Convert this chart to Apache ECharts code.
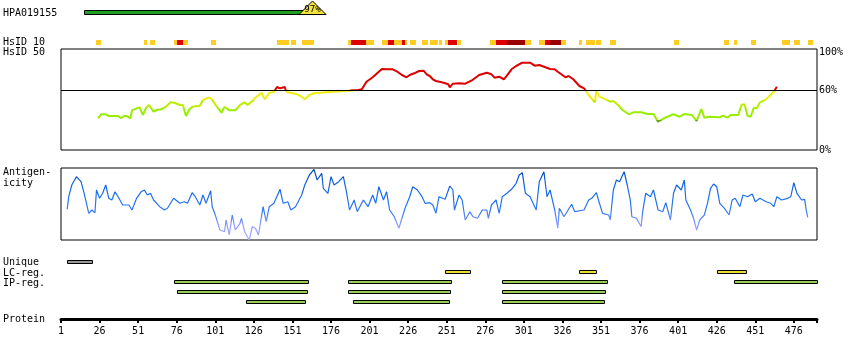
<!DOCTYPE html>
<html><head><meta charset="utf-8">
<script src="https://cdn.jsdelivr.net/npm/echarts@6/dist/echarts.min.js"></script>
<style>html,body{margin:0;padding:0;background:#fff}#c{width:850px;height:360px}</style>
</head><body><div id="c"></div>
<script>
// ---------------- data ----------------
const proteinLength = 491;
const axisTickLabels = [1, 26, 51, 76, 101, 126, 151, 176, 201, 226, 251, 276, 301, 326, 351, 376, 401, 426, 451, 476];
const antibodyName = 'HPA019155';
const hpaRange = [[16, 158]];
const hpaIdentity = [[164, 97]];
// [start, end, level] level 1 = orange, 2 = red, 3 = dark red
const hsid10 = [[24,26,1],[55,56,1],[59,61,1],[74,75,1],[76,79,2],[80,82,1],[98,100,1],[141,148,1],[150,152,1],[157,160,1],[161,164,1],
  [187,188,1],[189,198,2],[199,203,1],[209,212,1],[213,216,2],[217,221,1],[222,223,2],[224,224,1],[227,230,1],[235,238,1],[240,241,1],
  [242,244,1],[246,247,1],[250,251,1],[252,257,2],[258,259,1],[279,281,1],[282,282,1],[283,289,2],[290,301,3],[302,305,1],[311,314,1],
  [315,317,2],[318,324,3],[325,327,1],[337,338,1],[341,346,1],[348,350,1],[357,360,1],[398,400,1],[431,433,1],[437,438,1],[448,450,1],
  [468,472,1],[476,479,1],[485,487,1]];
// [residue, % identity]
const hsid50 = [[25,31.7],[27,35.7],[30,35.7],[32,34],[38,34],[40,31.7],[42,34.3],[44,33.7],[46,31.7],[47,39.7],[50,41.7],[52,42.7],[54,35],
  [56,41.7],[58,45],[59,45.7],[61,38.3],[63,40],[66,40.7],[69,43.3],[72,47.7],[75,47],[78,45],[80,45],[82,34],[84,40],[86,43.3],[91,44.3],
  [93,50],[97,52.7],[99,50],[102,43.3],[105,37.3],[107,43.3],[110,39.7],[114,39.7],[117,45],[120,47.7],[122,45],[125,49],[127,52.3],
  [131,57.3],[133,50.7],[136,57],[139,58.3],[141,63],[143,61.7],[144,60.7],[146,63],[147,58.3],[151,56.7],[154,55.7],[157,53.3],[159,50.7],
  [162,55],[165,56.7],[173,57.7],[174,59.3],[188,59.3],[190,59.8],[191,59],[193,59.7],[196,60.7],[199,68.3],[203,72.7],[209,81],[213,80.7],
  [214,79],[216,80.7],[219,78.3],[222,75],[225,72.7],[227,75],[230,76.7],[233,79],[236,79.3],[238,75.7],[240,74],[242,70.7],[244,69],
  [247,68],[249,67.3],[252,65.7],[253,62.7],[255,66.3],[259,66.7],[263,66.3],[267,69.3],[272,75],[277,77.3],[280,75.7],[282,72.3],
  [285,73.3],[288,70.7],[290,74.3],[293,80.7],[296,84],[300,87.3],[305,87.3],[308,84.3],[311,85],[315,82.7],[318,81],[321,80.7],[323,78.3],
  [328,72.7],[330,74],[333,70.7],[337,64],[340,61.7],[343,55],[347,47.7],[348,59],[350,53.3],[354,50.7],[357,48.3],[359,49],[362,45],
  [365,40],[369,35.7],[372,37.7],[377,37.7],[381,36],[385,36],[388,28.3],[391,31],[394,33.3],[398,35.7],[402,33.3],[405,36],[410,35],
  [413,29],[416,41],[418,32.3],[421,33.3],[428,32.7],[430,34.3],[433,32.3],[435,35],[440,35],[442,45],[444,45.7],[446,34.3],[448,33.3],
  [450,42.3],[452,41.7],[454,47.7],[458,50.7],[461,55],[463,58.3],[465,63.3]];
// [residue, antigenicity score]
const antigenicity = [[5,30.7],[6,43.3],[8,55],[11,63.3],[14,58.3],[16,46.7],[19,26.7],[21,30],[23,27.3],[24,50],[26,41.7],[28,46.7],[30,55],
  [32,41.7],[34,40],[36,48.3],[38,43.3],[41,35],[45,35],[47,30],[50,41.7],[53,48.3],[55,50],[57,45],[59,46.7],[61,40],[65,33.3],[68,30],
  [70,31.7],[72,36.7],[74,41.7],[78,36.7],[81,38.3],[83,36.7],[86,47.3],[88,43.3],[91,35],[93,45],[95,36.7],[98,49.3],[99,33.3],[101,25],
  [104,10],[107,8.3],[108,20],[110,5],[112,25],[114,10],[117,16.7],[118,21.7],[120,8.3],[123,0],[125,13.3],[127,11.7],[129,5],[132,33.3],
  [134,18.3],[136,33.3],[139,36.7],[143,50.7],[145,36.7],[148,38.3],[150,30],[153,33.3],[157,45],[159,55],[162,65],[165,70.7],[167,60],
  [170,66.7],[171,51.7],[174,46.7],[176,63.3],[178,55],[181,58.3],[184,63.3],[186,48.3],[188,30],[191,40],[193,28.3],[197,40],[200,33.3],
  [203,45],[205,36.7],[207,53.3],[210,40],[212,48.3],[214,30],[217,23.3],[220,11.7],[224,31.7],[227,43.3],[229,53.3],[232,50],[235,43.3],
  [237,36.7],[240,37.3],[242,35],[244,26.7],[246,43.3],[250,40.7],[253,54],[255,50],[256,30],[259,45],[261,40],[263,20],[266,28.3],
  [268,23.3],[271,21.7],[274,30],[277,30],[278,21.7],[280,35],[283,40],[285,26.7],[287,43.3],[290,46.7],[293,50.7],[296,56.7],[298,65],
  [300,67.3],[302,46.7],[305,43.3],[309,30],[311,58.3],[314,68.3],[316,43.3],[318,50],[321,30],[323,11.7],[324,31.7],[327,23.3],[329,28.3],
  [332,35.7],[334,28.3],[340,30],[343,40],[345,41.7],[348,47.3],[350,36.7],[352,26.7],[356,25],[357,20],[359,50],[361,60],[363,58.3],
  [366,68.3],[368,55],[370,40],[371,23.3],[374,21.7],[377,13.3],[378,28.3],[380,46.7],[383,43.3],[385,50],[388,30],[391,28.3],[393,37.3],
  [396,20],[398,46.7],[400,55],[403,50],[405,60],[406,40],[409,30],[411,21.7],[413,10],[415,20],[418,25],[420,36.7],[422,51.7],[424,56],
  [426,53.3],[428,36.7],[431,31.7],[434,25],[436,40],[438,41.7],[441,33.3],[443,45],[446,43.3],[449,46],[451,38.3],[454,41.7],[458,38.3],
  [461,36.7],[463,33.3],[465,43.3],[468,40],[472,41.7],[474,43.3],[476,57.3],[478,46.7],[479,45],[481,40],[483,40.7],[484,30],[485,22.7]];
const trackRows = ['Unique', 'LC-reg.', 'IP-reg. 1', 'IP-reg. 2', 'IP-reg. 3'];
const uniqueRegions = [[5, 21]];
const lcRegions = [[250, 266], [337, 348], [426, 445]];
const ipRegions1 = [[74, 161], [187, 254], [287, 355], [437, 491]];
const ipRegions2 = [[76, 160], [187, 253], [287, 354]];
const ipRegions3 = [[121, 159], [190, 252], [287, 353]];

// ---------------- chart ----------------
const FONT = '"DejaVu Sans Mono", monospace';
const L = 61, R = 33;
const trackData = [];
[[uniqueRegions, 'unique'], [lcRegions, 'lc'], [ipRegions1, 'ip'], [ipRegions2, 'ip'], [ipRegions3, 'ip']].forEach(function (pair, row) {
  pair[0].forEach(function (r) { trackData.push([r[0], row, r[1], pair[1]]); });
});
const trackFill = { unique: '#999999', lc: '#eedd33', ip: '#99cc55' };
const hsidFill = { 1: '#ffcc22', 2: '#dd0000', 3: '#990000' };

const chart = echarts.init(document.getElementById('c'), null, { renderer: 'canvas' });
const xBase = { type: 'value', min: 1, max: proteinLength, show: false };
const yBase = { type: 'value', min: 0, max: 1, show: false };

function txt(t, x, y, align) {
  return { type: 'text', x: x, y: y, silent: true,
    style: { text: t, x: 0, y: 0, fill: '#000', font: '10px ' + FONT, textAlign: align || 'left', textVerticalAlign: 'middle' } };
}

const option = {
  animation: false,
  backgroundColor: '#fff',
  grid: [
    { left: L, right: R, top: 2, height: 13 },
    { left: L, right: R, top: 40, height: 5 },
    { left: L, right: R, top: 49, height: 101, show: true, borderColor: '#000', borderWidth: 1, backgroundColor: 'transparent' },
    { left: L, right: R, top: 168, height: 72, show: true, borderColor: '#000', borderWidth: 1, backgroundColor: 'transparent' },
    { left: L, right: R, top: 257, height: 50 },
    { left: L, right: R, top: 317, height: 2 }
  ],
  xAxis: [
    Object.assign({ gridIndex: 0 }, xBase),
    Object.assign({ gridIndex: 1 }, xBase),
    Object.assign({ gridIndex: 2 }, xBase),
    Object.assign({ gridIndex: 3 }, xBase),
    Object.assign({ gridIndex: 4 }, xBase),
    { gridIndex: 5, type: 'value', min: 1, max: proteinLength, position: 'bottom',
      axisLine: { show: true, lineStyle: { color: '#000', width: 3 } },
      axisTick: { show: true, length: 4, customValues: axisTickLabels.concat([proteinLength]), lineStyle: { color: '#000', width: 2 } },
      axisLabel: { show: true, customValues: axisTickLabels, fontSize: 10, fontFamily: FONT, color: '#000', margin: 7 },
      splitLine: { show: false } }
  ],
  yAxis: [
    Object.assign({ gridIndex: 0 }, yBase),
    Object.assign({ gridIndex: 1 }, yBase),
    { gridIndex: 2, type: 'value', min: 0, max: 101, show: false },
    { gridIndex: 3, type: 'value', min: 0, max: 72, show: false },
    { gridIndex: 4, type: 'category', data: trackRows, inverse: true, show: false },
    Object.assign({ gridIndex: 5 }, yBase)
  ],
  visualMap: [
    { type: 'piecewise', show: false, seriesIndex: 3, dimension: 1,
      pieces: [
        { lt: 30, color: '#66aa11' },
        { gte: 30, lt: 42, color: '#99ee00' },
        { gte: 42, lt: 50, color: '#bbee00' },
        { gte: 50, lt: 60, color: '#eeee11' },
        { gte: 60, color: '#dd0000' }
      ] },
    { type: 'continuous', show: false, seriesIndex: 4, dimension: 1, min: 0, max: 72,
      inRange: { color: ['#aaaaff', '#8f9bff', '#3377f2', '#1a6fee', '#1160dd', '#0044aa'] } }
  ],
  graphic: [
    txt(antibodyName, 3, 13), txt('HsID 10', 3, 42.5), txt('HsID 50', 3, 52.5),
    txt('Antigen-', 3, 172.5), txt('icity', 3, 183),
    txt('Unique', 3, 262.5), txt('LC-reg.', 3, 273), txt('IP-reg.', 3, 283),
    txt('Protein', 3, 319),
    txt('100%', 819, 52.5), txt('60%', 819, 90), txt('0%', 819, 150.5)
  ],
  series: [
    { type: 'custom', xAxisIndex: 0, yAxisIndex: 0, clip: false, data: hpaRange, silent: true,
      renderItem: function (p, api) {
        const a = api.coord([api.value(0), 0]), b = api.coord([api.value(1), 0]);
        return { type: 'rect', shape: { x: Math.round(a[0]) + 0.5, y: 10.5, width: Math.round(b[0] - a[0]), height: 4 },
          style: { fill: '#1f9f1f', stroke: '#000', lineWidth: 1 } };
      } },
    { type: 'custom', xAxisIndex: 0, yAxisIndex: 0, clip: false, data: hpaIdentity, silent: true, z: 3,
      renderItem: function (p, api) {
        const c = api.coord([api.value(0), 0]);
        const cx = Math.round(c[0]) + 0.5, by = 14.5;
        return { type: 'group', children: [
          { type: 'polygon', shape: { points: [[cx - 13.5, by], [cx + 13.5, by], [cx, by - 13.5]] },
            style: { fill: '#f2e33c', stroke: '#000', lineWidth: 1 } },
          { type: 'text', style: { text: api.value(1) + '%', x: cx, y: by - 5, fill: '#000', font: '9px ' + FONT,
            textAlign: 'center', textVerticalAlign: 'middle', align: 'center', verticalAlign: 'middle' } }
        ] };
      } },
    { type: 'custom', xAxisIndex: 1, yAxisIndex: 1, clip: false, data: hsid10, silent: true,
      renderItem: function (p, api) {
        const a = api.coord([api.value(0), 0]), b = api.coord([api.value(1) + 1, 1]);
        return { type: 'rect', shape: { x: Math.round(a[0]), y: 40, width: Math.max(2, Math.round(b[0] - a[0])), height: 5 },
          style: { fill: hsidFill[api.value(2)] } };
      } },
    { type: 'line', xAxisIndex: 2, yAxisIndex: 2, data: hsid50, showSymbol: false, silent: true,
      lineStyle: { width: 2 }, z: 3,
      markLine: { silent: true, symbol: ['none', 'none'], label: { show: false }, animation: false,
        lineStyle: { color: '#000', width: 1, type: 'solid' }, data: [{ yAxis: 60 }] } },
    { type: 'line', xAxisIndex: 3, yAxisIndex: 3, data: antigenicity, showSymbol: false, silent: true,
      lineStyle: { width: 1.2 } },
    { type: 'custom', xAxisIndex: 4, yAxisIndex: 4, clip: false, data: trackData, silent: true,
      encode: { x: [0, 2], y: 1 },
      renderItem: function (p, api) {
        const a = api.coord([api.value(0), api.value(1)]), b = api.coord([api.value(2), api.value(1)]);
        const kind = trackData[p.dataIndex][3];
        return { type: 'rect', shape: { x: Math.round(a[0]) + 0.5, y: Math.round(a[1] - 2) + 0.5, width: Math.round(b[0] - a[0]), height: 3 },
          style: { fill: trackFill[kind], stroke: '#000', lineWidth: 1 } };
      } },
    { type: 'line', xAxisIndex: 5, yAxisIndex: 5, data: [] }
  ]
};
chart.setOption(option);
</script></body></html>
